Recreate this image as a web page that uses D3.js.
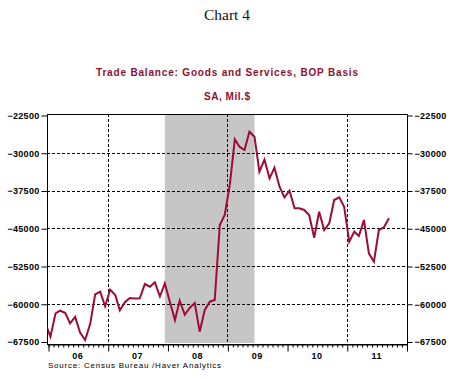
<!DOCTYPE html>
<html>
<head>
<meta charset="utf-8">
<script src="https://cdn.jsdelivr.net/npm/d3@7"></script>
<style>
  html, body { margin: 0; padding: 0; background: #fff; }
  svg { display: block; }
</style>
</head>
<body>
<svg id="chart" width="458" height="379"></svg>
<script>
// ---------------- DATA ----------------
const startMonth = "2005-12";           // first observation (clipped at left edge)
const tradeBalance = [
  -63900,
  -66550, -61900, -61380, -61780, -63890, -62600, -65700, -67200, -64000, -58160, -57600, -60500,
  -57200, -58260, -61300, -59700, -58860, -58980, -58900, -56080, -56610, -55720, -58530, -55970,
  -59650, -63230, -59400, -62180, -60850, -59850, -65550, -61240, -59590, -59260, -44350, -42370,
  -36400, -27330, -28800, -29450, -25820, -26810, -33760, -31350, -35080, -32970, -36740, -38860,
  -37530, -41040, -41040, -41370, -42370, -46870, -41710, -45350, -44020, -39390, -38860, -40720,
  -47670, -45680, -46540, -43360, -49980, -51640, -45350, -44810, -43020
];
const recession = ["2007-12", "2009-06"];
const yTicks = [-22500, -30000, -37500, -45000, -52500, -60000, -67500];
const yearLabels = ["06", "07", "08", "09", "10", "11"];
const gridYears = [2007, 2009, 2011];
const titleText = "Chart 4";
const subtitle1 = "Trade Balance:  Goods and Services, BOP Basis";
const subtitle2 = "SA, Mil.$";
const sourceText = "Source:  Census Bureau /Haver Analytics";

// ---------------- LAYOUT ----------------
const svg = d3.select("#chart");
const L = 47, R = 407, T = 114, B = 344;
const darkRed = "#8c0f33";
const lineRed = "#9e0b35";

const parseM = d3.timeParse("%Y-%m");
const mid = s => { const d = parseM(s); return new Date(d.getFullYear(), d.getMonth(), 16); };
const d0 = parseM(startMonth);
const series = tradeBalance.map((v, i) => ({
  date: new Date(d0.getFullYear(), d0.getMonth() + i, 16), value: v
}));

const x = d3.scaleTime()
  .domain([new Date(2006, 0, 1), new Date(2012, 0, 1)])
  .range([48, 406.5]);
const y = d3.scaleLinear().domain([-67500, -22500]).range([341.5, 115]);

// clip
svg.append("defs").append("clipPath").attr("id", "plotclip")
  .append("rect").attr("x", L + 0.5).attr("y", T).attr("width", R - L - 0.5).attr("height", B - T);

// recession shading
svg.append("rect")
  .attr("x", x(mid(recession[0])))
  .attr("y", T + 1)
  .attr("width", x(mid(recession[1])) - x(mid(recession[0])))
  .attr("height", B - T - 2)
  .attr("fill", "#c6c6c6");

// horizontal dashed gridlines
svg.append("g").selectAll("line")
  .data(yTicks.filter(v => v > -67500 && v < -22500))
  .join("line")
  .attr("x1", L).attr("x2", R)
  .attr("y1", d => Math.round(y(d)) + 0.5).attr("y2", d => Math.round(y(d)) + 0.5)
  .attr("stroke", "#000").attr("stroke-width", 1).attr("stroke-dasharray", "3,2");

// vertical dashed gridlines
svg.append("g").selectAll("line")
  .data(gridYears)
  .join("line")
  .attr("x1", d => Math.round(x(new Date(d, 0, 1))) + 0.5)
  .attr("x2", d => Math.round(x(new Date(d, 0, 1))) + 0.5)
  .attr("y1", T).attr("y2", B)
  .attr("stroke", "#000").attr("stroke-width", 1).attr("stroke-dasharray", "3,2");

// frame
svg.append("rect")
  .attr("x", L + 0.5).attr("y", T + 0.5)
  .attr("width", R - L).attr("height", B - T)
  .attr("fill", "none").attr("stroke", "#000").attr("stroke-width", 1);

// left axis
const axL = svg.append("g").attr("transform", `translate(${L + 0.5},0.5)`)
  .call(d3.axisLeft(y).tickValues(yTicks).tickSize(6).tickPadding(2).tickFormat(d3.format("d")));
axL.select(".domain").remove();
// right axis
const axR = svg.append("g").attr("transform", `translate(${R + 0.5},0.5)`)
  .call(d3.axisRight(y).tickValues(yTicks).tickSize(5).tickPadding(2).tickFormat(d3.format("d")));
axR.select(".domain").remove();
[axL, axR].forEach(a => {
  a.selectAll("text").attr("font-family", "'Liberation Sans', Arial, sans-serif")
    .attr("font-size", "9px").attr("font-weight", "bold").attr("fill", "#000")
    .attr("letter-spacing", "0.3px");
  a.selectAll("line").attr("stroke", "#000");
});

// bottom axis: monthly minor ticks, yearly major ticks
const minorTicks = d3.timeMonth.range(new Date(2006, 0, 1), new Date(2012, 0, 2))
  .filter(d => d.getMonth() !== 0);
const majorTicks = d3.timeYear.range(new Date(2006, 0, 1), new Date(2012, 0, 2));
const axMinor = svg.append("g").attr("transform", `translate(0.5,${B + 0.5})`)
  .call(d3.axisBottom(x).tickValues(minorTicks).tickSize(3).tickFormat(""));
axMinor.select(".domain").attr("stroke", "#000");
const axMajor = svg.append("g").attr("transform", `translate(0.5,${B + 0.5})`)
  .call(d3.axisBottom(x).tickValues(majorTicks).tickSize(7).tickFormat(""));
axMajor.select(".domain").remove();
svg.selectAll(".tick line").attr("stroke", "#000");

// year labels centred within each year
svg.append("g").selectAll("text")
  .data(yearLabels)
  .join("text")
  .attr("x", (d, i) => (x(new Date(2006 + i, 0, 1)) + x(new Date(2007 + i, 0, 1))) / 2)
  .attr("y", 358.5)
  .attr("text-anchor", "middle")
  .attr("font-family", "'Liberation Sans', Arial, sans-serif")
  .attr("font-size", "9px").attr("font-weight", "bold")
  .attr("letter-spacing", "0.5px")
  .text(d => d);

// data line
svg.append("path")
  .datum(series)
  .attr("clip-path", "url(#plotclip)")
  .attr("fill", "none")
  .attr("stroke", lineRed)
  .attr("stroke-width", 2)
  .attr("stroke-linejoin", "miter")
  .attr("d", d3.line().x(d => x(d.date)).y(d => y(d.value)));

// titles
svg.append("text").attr("x", 227).attr("y", 19.5).attr("text-anchor", "middle")
  .attr("font-family", "'Liberation Serif', 'Times New Roman', serif")
  .attr("font-size", "15.5px").attr("fill", "#111").text(titleText);
svg.append("text").attr("x", 227).attr("y", 76).attr("text-anchor", "middle")
  .attr("font-family", "'Liberation Sans', Arial, sans-serif")
  .attr("font-size", "10px").attr("font-weight", "bold").attr("fill", darkRed)
  .attr("textLength", 262).attr("lengthAdjust", "spacing")
  .text(subtitle1);
svg.append("text").attr("x", 227).attr("y", 100).attr("text-anchor", "middle")
  .attr("font-family", "'Liberation Sans', Arial, sans-serif")
  .attr("font-size", "10px").attr("font-weight", "bold").attr("fill", darkRed)
  .attr("textLength", 46).attr("lengthAdjust", "spacing")
  .text(subtitle2);

// source
svg.append("text").attr("x", 48).attr("y", 368)
  .attr("font-family", "'Liberation Sans', Arial, sans-serif")
  .attr("font-size", "8px").attr("fill", "#000")
  .attr("textLength", 173).attr("lengthAdjust", "spacing")
  .text(sourceText);
</script>
</body>
</html>
